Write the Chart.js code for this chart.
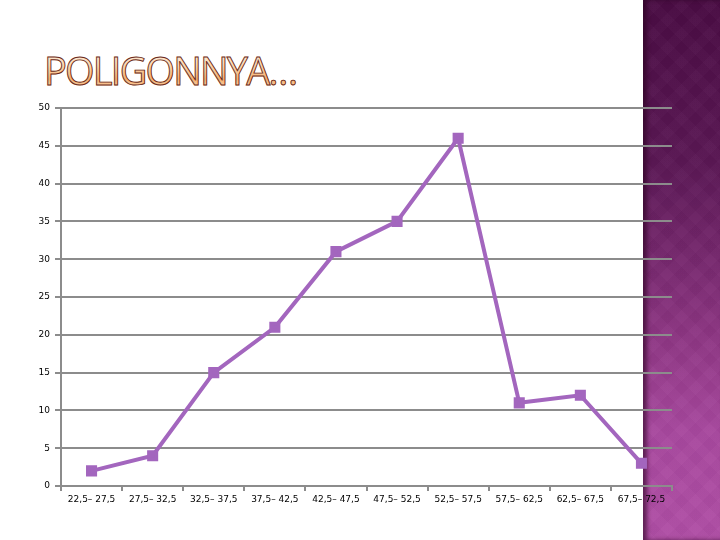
<!DOCTYPE html>
<html><head><meta charset="utf-8">
<script src="https://cdn.jsdelivr.net/npm/chart.js@4/dist/chart.umd.min.js"></script>
<style>
html,body{margin:0;padding:0;width:720px;height:540px;overflow:hidden;background:#fff;}
#strip{position:absolute;left:643px;top:0;width:77px;height:540px;
background:
 repeating-linear-gradient(45deg, rgba(255,255,255,0.015) 0 10px, rgba(0,0,0,0.015) 10px 20px),
 repeating-linear-gradient(-45deg, rgba(255,255,255,0.015) 0 10px, rgba(0,0,0,0.015) 10px 20px),
 linear-gradient(180deg,#4a0c44 0%,#5a1754 30%,#8a3480 60%,#a8489e 80%,#b04ea6 100%);
box-shadow: inset 4px 0 4px rgba(40,0,30,0.6);}
#title{position:absolute;left:44px;top:47px;font-family:"Open Sans",sans-serif;font-size:38px;font-weight:400;letter-spacing:-1.8px;
background:linear-gradient(180deg,#fff6ee 0%,#fcd8b0 40%,#f5b070 70%,#fde4c8 100%);
-webkit-background-clip:text;background-clip:text;color:transparent;-webkit-text-stroke:0.9px #6a2a20;line-height:46px;white-space:nowrap;}
#wrap{position:absolute;left:0;top:0;width:720px;height:540px;}
</style></head>
<body>
<div id="strip"></div>
<div id="title">POLIGONNYA…</div>
<div id="wrap"><canvas id="c" width="720" height="540"></canvas></div>
<script>
const categories = ["22,5– 27,5","27,5– 32,5","32,5– 37,5","37,5– 42,5","42,5– 47,5","47,5– 52,5","52,5– 57,5","57,5– 62,5","62,5– 67,5","67,5– 72,5"];
const frequencies = [2,4,15,21,31,35,46,11,12,3];
const yTicks = [0,5,10,15,20,25,30,35,40,45,50];

new Chart(document.getElementById('c'),{
  type:'line',
  data:{labels:categories,datasets:[{
    data:frequencies,borderColor:'#a366be',backgroundColor:'#a366be',borderWidth:4,
    pointStyle:'rect',pointRadius:5,pointHoverRadius:5,tension:0,fill:false
  }]},
  options:{
    responsive:false,animation:false,
    plugins:{legend:{display:false},tooltip:{enabled:false},title:{display:false}},
    layout:{padding:{left:0,top:108,right:48,bottom:0}},
    scales:{
      x:{offset:true,
        grid:{drawOnChartArea:false,drawTicks:true,tickLength:5,color:'#8c8c8c',lineWidth:2,offset:true},
        border:{color:'#8c8c8c',width:2},
        ticks:{color:'#000',font:{family:'DejaVu Sans',size:9},maxRotation:0,autoSkip:false,padding:3},
        afterFit(s){s.height=54;}
      },
      y:{min:0,max:50,
        afterBuildTicks(s){s.ticks=yTicks.map(v=>({value:v}));},
        grid:{color:'#8c8c8c',lineWidth:2,tickLength:6},
        border:{color:'#8c8c8c',width:2},
        ticks:{color:'#000',font:{family:'DejaVu Sans',size:9},padding:5},
        afterFit(s){s.width=61;}
      }
    }
  }
});
</script>
</body></html>
